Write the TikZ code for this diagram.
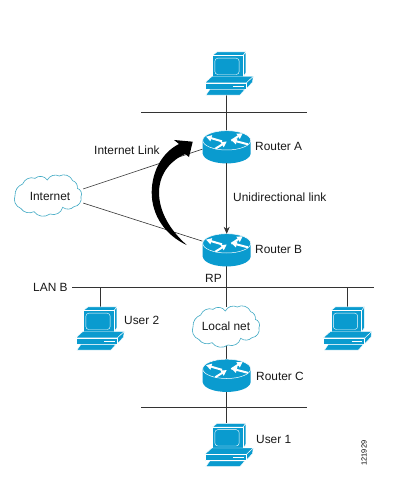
\documentclass[tikz,border=0pt]{standalone}
\usepackage{fontspec}
\setmainfont{Liberation Sans}
\usetikzlibrary{arrows.meta,backgrounds}
\definecolor{cisco}{HTML}{0A9BCF}
\definecolor{cloudline}{HTML}{3FA9C4}
\definecolor{wire}{HTML}{333333}
\tikzset{
  x=1pt,y=-1pt,
  lbl/.style={inner sep=0pt,font=\fontsize{11.9}{13}\selectfont,text=black!90},
  hub/.style={inner sep=0pt,minimum width=48pt,minimum height=32pt},
  pcbox/.style={inner sep=0pt,minimum width=48pt,minimum height=43pt},
  cloudbox/.style={inner sep=0pt,minimum width=66pt,minimum height=38pt,lbl},
  wirestyle/.style={draw=wire,line width=.6pt},
  white arrow/.style={white,line width=2pt,-{Triangle[length=5.5pt,width=6pt]}},
  router/.pic={
    \begin{scope}[x=.3333pt,y=-.3333pt,shift={(-290,-321)}]
      \fill[cisco] (218,301) -- (218,341) .. controls (225,380) and (355,380) .. (362,341) -- (362,301) -- cycle;
      \draw[fill=cisco,draw=white,line width=.5pt] (290,301) ellipse [x radius=72,y radius=29];
      \draw[white arrow] (276,304) -- (228,290);
      \draw[white arrow] (304,302) -- (338,280);
      \draw[white arrow] (354,313) -- (304,300);
      \draw[white arrow] (256,326) -- (290,305);
    \end{scope}
  },
  computer/.pic={
    \begin{scope}[x=.3333pt,y=-.3333pt,shift={(-297.5,-100)}]
      \begin{scope}[draw=white,fill=cisco,line width=.4pt,line join=round]
      \filldraw (248,46) -- (262,35) -- (348,35) -- (340,46) -- cycle;
      \filldraw (340,46) -- (348,35) -- (348,98) -- (340,110) -- cycle;
      \filldraw (248,46) rectangle (340,110);
      \filldraw[rounded corners=3pt] (255,54) rectangle (328,103);
      \filldraw (225,128) -- (246,109) -- (370,109) -- (350,128) -- cycle;
      \filldraw (350,128) -- (370,109) -- (368,126) -- (348,147) -- cycle;
      \filldraw (225,128) rectangle (349,147);
      \filldraw (228,165) -- (240,148) -- (345,148) -- (330,165) -- cycle;
      \draw (310,137) -- (342,137);
      \end{scope}
    \end{scope}
  },
  cloudshape/.pic={
    \begin{scope}[x=.3333pt,y=-.3333pt,shift={(-144,-195)}]
      \draw[draw=cloudline,fill=white,line width=.6pt]
        (45,197) to[bend left=35] (68,162) to[bend left=45] (105,145)
        to[bend left=50] (142,150) to[bend left=45] (178,138)
        to[bend left=50] (218,152) to[bend left=40] (232,175)
        to[bend left=50] (243,200) to[bend left=50] (222,230)
        to[bend left=40] (188,232) to[bend left=50] (150,252)
        to[bend left=45] (102,245) to[bend left=40] (62,235)
        to[bend left=45] (45,197) -- cycle;
    \end{scope}
  }
}
\begin{document}
\begin{tikzpicture}
\useasboundingbox (0,0) rectangle (401,489);
\begin{scope}[on background layer]
\fill[white] (0,0) rectangle (401,489);
\end{scope}
% anchors
\node[pcbox] (pctop) at (229,73.5) {};
\node[hub] (ra) at (226.7,147) {};
\node[hub] (rb) at (226.7,250) {};
\node[hub] (rc) at (226.7,375.5) {};
\node[pcbox] (pcu2) at (100,328.5) {};
\node[pcbox] (pcr) at (347.5,328.5) {};
\node[pcbox] (pcu1) at (229,445) {};
\coordinate (topL) at (141,112);
\coordinate (topR) at (307,112);
\coordinate (topJ) at (226.5,112);
\coordinate (lanL) at (72,287);
\coordinate (lanR) at (374,287);
\coordinate (lanJ) at (226.5,287);
\coordinate (lanU) at (100.5,287);
\coordinate (lanP) at (347,287);
\coordinate (botL) at (141,407);
\coordinate (botR) at (307,407);
\coordinate (botJ) at (226.5,407);
% pictograms
\pic at (ra) {router};
\pic at (rb) {router};
\pic at (rc) {router};
\pic at (pctop) {computer};
\pic at (pcu2) {computer};
\pic at (pcr) {computer};
\pic at (pcu1) {computer};
\pic at (48,195) {cloudshape};
\pic at (226,326) {cloudshape};
% labelled nodes
\node[cloudbox] (inet) at (50,196) {Internet};
\node[cloudbox] (lnet) at (226,326) {Local net};
\node[lbl,anchor=west] (la) at (255,146) {Router A};
\node[lbl,anchor=west] (lb) at (255,249) {Router B};
\node[lbl,anchor=west] (lc) at (256,376) {Router C};
\node[lbl,anchor=west] (lu1) at (256,439) {User 1};
\node[lbl,anchor=west] (lu2) at (124,320) {User 2};
\node[lbl,anchor=west] (link) at (233,197) {Unidirectional link};
\node[lbl,anchor=west] (ilink) at (94,150) {Internet Link};
\node[lbl,anchor=west] (rp) at (205,278) {RP};
\node[lbl,anchor=west] (lan) at (33,287) {LAN B};
\node[rotate=90,inner sep=0pt,font=\fontsize{7.4}{8}\selectfont] (num) at (364,453) {121929};
% connectors behind the pictograms
\begin{scope}[on background layer]
\draw[wirestyle] (topL) -- (topR);
\draw[wirestyle] (lanL) -- (lanR);
\draw[wirestyle] (botL) -- (botR);
\draw[wirestyle] (226.5,95) -- (topJ);
\draw[wirestyle] (topJ) -- (ra.north-|topJ);
\draw[wirestyle] (rb.south-|lanJ) -- (lanJ);
\draw[wirestyle] (lanJ) -- (lnet.north-|lanJ);
\draw[wirestyle] (lnet.south-|lanJ) -- (rc.north-|lanJ);
\draw[wirestyle] (rc.south-|botJ) -- (botJ);
\draw[wirestyle] (botJ) -- (226.5,423);
\draw[wirestyle] (lanU) -- (lanU|-pcu2.north);
\draw[wirestyle] (lanP) -- (lanP|-pcr.north);
\draw[wirestyle] (inet.12) -- (ra.185);
\draw[wirestyle] (inet.-12) -- (rb.160);
\end{scope}
\draw[wirestyle,-{Stealth[length=7pt,width=6pt]}] (ra.south) -- (rb.north);
% the thick curved arrow
\fill[black] (186.7,245) .. controls (165,235) and (151.5,215) .. (151.7,192)
  .. controls (152,170) and (163,152) .. (179,144)
  -- (174,140) -- (192.7,141.7) -- (189,157) -- (185,154)
  .. controls (172,160) and (159.5,172) .. (159,192)
  .. controls (159,212) and (170,230) .. (186.7,245) -- cycle;
\end{tikzpicture}
\end{document}
